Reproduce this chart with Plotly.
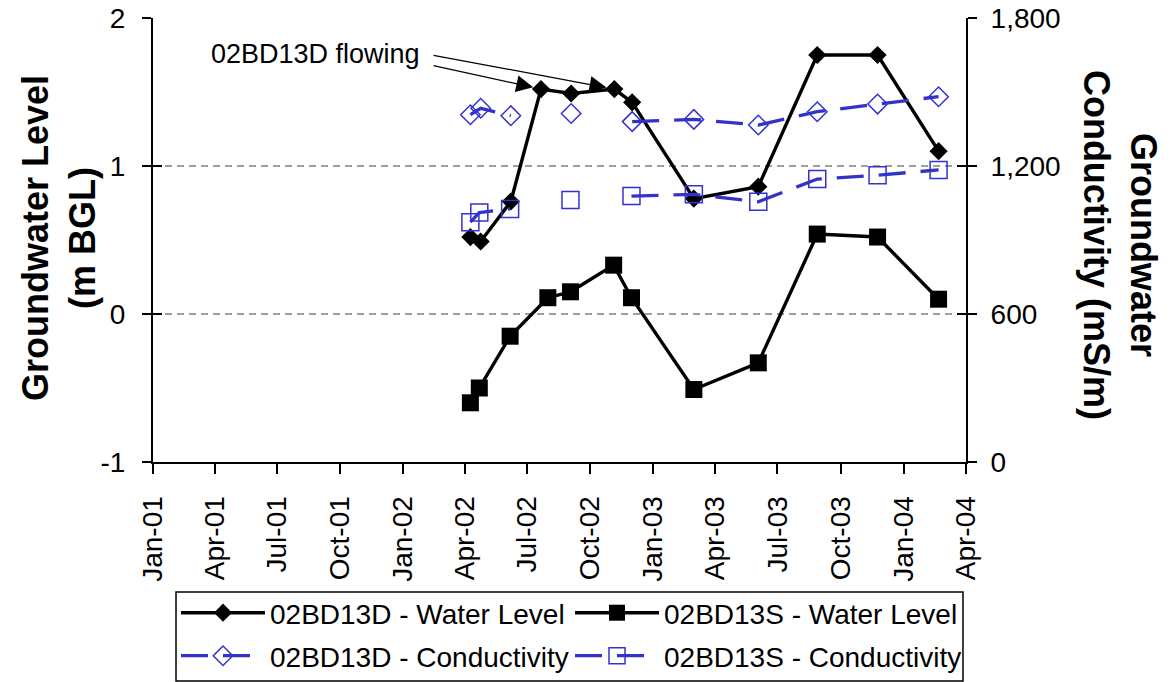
import plotly.graph_objects as go

# ---------------- data ----------------
d_dates = ["2002-04-09", "2002-04-24", "2002-06-07", "2002-07-21", "2002-09-03", "2002-11-05",
           "2002-12-01", "2003-03-01", "2003-06-03", "2003-08-28", "2003-11-24", "2004-02-21"]
d_level = [0.52, 0.49, 0.76, 1.52, 1.49, 1.52, 1.43, 0.78, 0.86, 1.75, 1.75, 1.10]
d_cond = [1408, 1434, 1404, None, 1413, None, 1380, 1389, 1366, 1420, 1451, 1481]

s_dates = ["2002-04-09", "2002-04-22", "2002-06-06", "2002-07-31", "2002-09-02", "2002-11-04",
           "2002-11-30", "2003-03-01", "2003-06-03", "2003-08-28", "2003-11-24", "2004-02-21"]
s_level = [-0.60, -0.50, -0.15, 0.11, 0.15, 0.33, 0.11, -0.51, -0.33, 0.54, 0.52, 0.10]
s_cond = [972, 1011, 1026, None, 1062, None, 1078, 1085, 1055, 1147, 1163, 1184]

x_ticks = ["2001-01-01", "2001-04-01", "2001-07-01", "2001-10-01", "2002-01-01", "2002-04-01",
           "2002-07-01", "2002-10-01", "2003-01-01", "2003-04-01", "2003-07-01", "2003-10-01",
           "2004-01-01", "2004-04-01"]
x_labels = ["Jan-01", "Apr-01", "Jul-01", "Oct-01", "Jan-02", "Apr-02", "Jul-02", "Oct-02",
            "Jan-03", "Apr-03", "Jul-03", "Oct-03", "Jan-04", "Apr-04"]
left_ticks = [-1, 0, 1, 2]
left_labels = ["-1", "0", "1", "2"]
right_ticks = [0, 600, 1200, 1800]
right_labels = ["0", "600", "1,200", "1,800"]
grid_vals = [0, 1]

names = ["02BD13D - Water Level", "02BD13S - Water Level",
         "02BD13D - Conductivity", "02BD13S - Conductivity"]
note_text = "02BD13D flowing"
left_title = "Groundwater Level<br>(m BGL)"
right_title = "Groundwater<br>Conductivity (mS/m)"

# ---------------- styles ----------------
FONT = "Liberation Sans, Arial, sans-serif"
BLUE = "#3333CC"
DASH = "27px,15px"

fig = go.Figure()
fig.add_trace(go.Scatter(x=d_dates, y=d_level, name=names[0], mode="lines+markers",
                         line=dict(color="black", width=3.4),
                         marker=dict(symbol="diamond", size=14, color="black"),
                         yaxis="y", legend="legend"))
fig.add_trace(go.Scatter(x=s_dates, y=s_level, name=names[1], mode="lines+markers",
                         line=dict(color="black", width=3.4),
                         marker=dict(symbol="square", size=17, color="black"),
                         yaxis="y", legend="legend"))
fig.add_trace(go.Scatter(x=d_dates, y=d_cond, name=names[2], mode="lines+markers",
                         line=dict(color=BLUE, width=3.3, dash=DASH),
                         marker=dict(symbol="diamond-open", size=15, color=BLUE, line=dict(width=1.5)),
                         yaxis="y2", connectgaps=False, legend="legend2"))
fig.add_trace(go.Scatter(x=s_dates, y=s_cond, name=names[3], mode="lines+markers",
                         line=dict(color=BLUE, width=3.3, dash=DASH),
                         marker=dict(symbol="square-open", size=17, color=BLUE, line=dict(width=1.5)),
                         yaxis="y2", connectgaps=False, legend="legend2"))

for v in grid_vals:
    fig.add_shape(type="line", xref="paper", x0=0, x1=1, yref="y", y0=v, y1=v,
                  line=dict(color="#808080", width=1.5, dash="7px,5px"), layer="below")

# legend frame
fig.add_shape(type="rect", xref="paper", yref="paper", x0=0.0283, x1=0.9963,
              y0=-0.2928, y1=-0.4932, line=dict(color="black", width=1.5),
              fillcolor="rgba(0,0,0,0)", layer="above")

tick_font = dict(family=FONT, size=28, color="black")
leg_common = dict(orientation="h", xanchor="left", yanchor="top",
                  entrywidth=295, entrywidthmode="pixels", itemwidth=84,
                  font=dict(family=FONT, size=28, color="black"),
                  borderwidth=0, bgcolor="rgba(0,0,0,0)", tracegroupgap=0)

fig.update_layout(
    width=1172, height=682,
    margin=dict(l=153, r=206, t=18, b=220, autoexpand=False),
    paper_bgcolor="white", plot_bgcolor="white",
    font=dict(family=FONT, size=28, color="black"),
    xaxis=dict(type="date", range=[x_ticks[0], x_ticks[-1]], tickvals=x_ticks, ticktext=x_labels,
               tickangle=-90, ticks="outside", ticklen=10, tickwidth=1.5, tickcolor="black",
               showline=True, linecolor="black", linewidth=2, showgrid=False, zeroline=False,
               tickfont=tick_font, ticklabelstandoff=11, automargin=False),
    yaxis=dict(range=[left_ticks[0], left_ticks[-1]], tickvals=left_ticks, ticktext=left_labels,
               ticks="outside", ticklen=9, tickwidth=1.5, tickcolor="black", showline=True,
               linecolor="black", linewidth=2, showgrid=False, zeroline=False,
               tickfont=tick_font, ticklabelstandoff=11, automargin=False),
    yaxis2=dict(range=[right_ticks[0], right_ticks[-1]], tickvals=right_ticks,
                ticktext=right_labels, overlaying="y", side="right", anchor="x",
                ticks="outside", ticklen=9, tickwidth=1.5, tickcolor="black", showline=True,
                linecolor="black", linewidth=2, showgrid=False, zeroline=False,
                tickfont=tick_font, ticklabelstandoff=8, automargin=False),
    yaxis3=dict(range=[left_ticks[0], left_ticks[-1]], tickvals=left_ticks, overlaying="y",
                side="left", anchor="x", ticks="inside", ticklen=9, tickwidth=1.5,
                tickcolor="black", showticklabels=False, showgrid=False, zeroline=False,
                showline=False),
    yaxis4=dict(range=[right_ticks[0], right_ticks[-1]], tickvals=right_ticks, overlaying="y",
                side="right", anchor="x", ticks="inside", ticklen=9, tickwidth=1.5,
                tickcolor="black", showticklabels=False, showgrid=False, zeroline=False,
                showline=False),
    legend=dict(x=0.0283, y=-0.2838, **leg_common),
    legend2=dict(x=0.0283, y=-0.3806, **leg_common),
    showlegend=True,
)

# invisible anchors so overlay tick axes are drawn
fig.add_trace(go.Scatter(x=[], y=[], yaxis="y3", showlegend=False, hoverinfo="skip"))
fig.add_trace(go.Scatter(x=[], y=[], yaxis="y4", showlegend=False, hoverinfo="skip"))

# axis titles
fig.add_annotation(text="<b>" + left_title + "</b>", xref="paper", yref="paper",
                   x=-0.1156, y=0.5045, xanchor="center", yanchor="middle", textangle=-90,
                   showarrow=False, font=dict(family=FONT, size=36, color="black"))
fig.add_annotation(text="<b>" + right_title + "</b>", xref="paper", yref="paper",
                   x=1.1894, y=0.489, xanchor="center", yanchor="middle", textangle=90,
                   showarrow=False, font=dict(family=FONT, size=36, color="black"))

# "flowing" note with arrows pointing at data points
fig.add_annotation(text=note_text, xref="x", yref="y", x="2002-01-28", y=1.757,
                   xanchor="right", yanchor="middle", showarrow=False,
                   font=dict(family=FONT, size=27, color="black"))
for idx, tail_y in [(3, 1.680), (5, 1.750)]:
    fig.add_annotation(text="", xref="x", yref="y", x=d_dates[idx], y=d_level[idx],
                       axref="x", ayref="y", ax="2002-02-12", ay=tail_y,
                       showarrow=True, arrowhead=2, arrowsize=2.6, arrowwidth=1.3,
                       arrowcolor="black", standoff=8)

fig.write_html("out.html")
